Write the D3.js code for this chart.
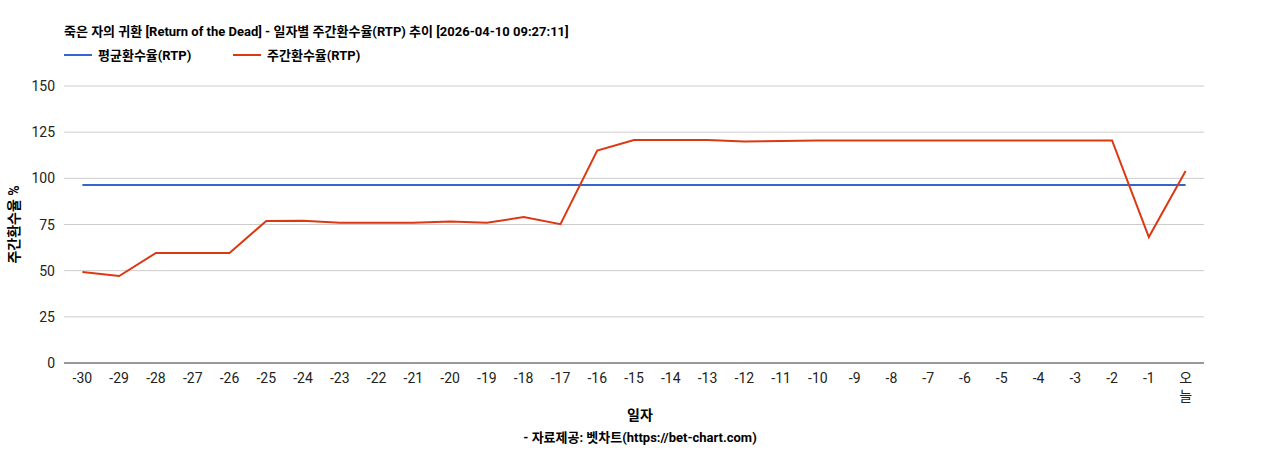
<!DOCTYPE html>
<html>
<head>
<meta charset="utf-8">
<script src="https://cdn.jsdelivr.net/npm/d3@7"></script>
<style>
  body { margin: 0; background: #fff; font-family: Roboto, "Noto Sans CJK KR", sans-serif; }
</style>
</head>
<body>
<div id="chart"></div>
<script>
const TITLE = '죽은 자의 귀환 [Return of the Dead] - 일자별 주간환수율(RTP) 추이 [2026-04-10 09:27:11]';
const categories = ['-30','-29','-28','-27','-26','-25','-24','-23','-22','-21','-20','-19','-18','-17','-16',
  '-15','-14','-13','-12','-11','-10','-9','-8','-7','-6','-5','-4','-3','-2','-1','오늘'];
const weeklyRtp = [49.3, 47.1, 59.6, 59.6, 59.6, 76.9, 77.0, 76.0, 76.0, 76.0, 76.6, 76.0, 79.0, 75.2, 115.0,
  120.7, 120.7, 120.7, 120.0, 120.2, 120.5, 120.5, 120.5, 120.5, 120.5, 120.5, 120.5, 120.5, 120.5, 68.2, 104.0];
const avgRtp = categories.map(() => 96.4);
const yTicks = [0, 25, 50, 75, 100, 125, 150];

const W = 1268, H = 450;
const MARGIN = { TOP: 86, BOTTOM: 87, LEFT: 64, RIGHT: 64 };
const WIDTH = W - MARGIN.LEFT - MARGIN.RIGHT;
const HEIGHT = H - MARGIN.TOP - MARGIN.BOTTOM;
const FONT = 'Roboto, "Noto Sans CJK KR", sans-serif';

const root = d3.select('#chart').append('svg')
  .attr('width', W).attr('height', H)
  .style('font-family', FONT);

// title
root.append('text')
  .attr('x', 64).attr('y', 36)
  .attr('font-size', 13).attr('font-weight', 'bold').attr('fill', '#000')
  .text(TITLE);

// legend
const legend = [{ name: '평균환수율(RTP)', color: '#3366cc', x: 64 }, { name: '주간환수율(RTP)', color: '#dc3912', x: 233 }];
legend.forEach(l => {
  root.append('line').attr('x1', l.x).attr('x2', l.x + 28).attr('y1', 55).attr('y2', 55)
    .attr('stroke', l.color).attr('stroke-width', 2);
  root.append('text').attr('x', l.x + 34).attr('y', 60)
    .attr('font-size', 13).attr('font-weight', 'bold').text(l.name);
});

const svg = root.append('g').attr('transform', `translate(${MARGIN.LEFT}, ${MARGIN.TOP})`);

const x = d3.scaleBand().domain(categories).range([0, WIDTH]);
const y = d3.scaleLinear().domain([0, 150]).range([HEIGHT, 0]);
const cx = d => x(d) + x.bandwidth() / 2;

// grid
svg.append('g').selectAll('line').data(yTicks.filter(t => t > 0)).enter().append('line')
  .attr('x1', 0).attr('x2', WIDTH).attr('y1', d => y(d)).attr('y2', d => y(d))
  .attr('stroke', '#cccccc');

// y axis labels
svg.append('g').selectAll('text').data(yTicks).enter().append('text')
  .attr('x', -9).attr('y', d => y(d) + 5)
  .attr('text-anchor', 'end').attr('font-size', 14).attr('fill', '#222')
  .text(d => d);

// baseline
svg.append('line').attr('x1', 0).attr('x2', WIDTH).attr('y1', HEIGHT).attr('y2', HEIGHT)
  .attr('stroke', '#333');

// x axis labels
const xl = svg.append('g').selectAll('text').data(categories).enter().append('text')
  .attr('x', d => cx(d)).attr('y', HEIGHT + 20)
  .attr('text-anchor', 'middle').attr('font-size', 14).attr('fill', '#222');
xl.each(function(d) {
  const t = d3.select(this);
  if (d === '오늘') {
    t.append('tspan').attr('x', cx(d)).text('오');
    t.append('tspan').attr('x', cx(d)).attr('dy', 18).text('늘');
  } else t.text(d);
});

// axis titles
root.append('text').attr('x', 640).attr('y', 420).attr('text-anchor', 'middle')
  .attr('font-size', 14).attr('font-weight', 'bold').text('일자');
root.append('text').attr('x', 640).attr('y', 442).attr('text-anchor', 'middle')
  .attr('font-size', 13).attr('font-weight', 'bold').text('- 자료제공: 벳차트(https://bet-chart.com)');
root.append('text').attr('transform', `translate(19, ${MARGIN.TOP + HEIGHT / 2}) rotate(-90)`)
  .attr('text-anchor', 'middle').attr('font-size', 14).attr('font-weight', 'bold').text('주간환수율 %');

// lines
const line = d3.line().x((d, i) => cx(categories[i])).y(d => y(d));
svg.append('path').datum(avgRtp).attr('d', line).attr('fill', 'none')
  .attr('stroke', '#3366cc').attr('stroke-width', 2);
svg.append('path').datum(weeklyRtp).attr('d', line).attr('fill', 'none')
  .attr('stroke', '#dc3912').attr('stroke-width', 2);
</script>
</body>
</html>
